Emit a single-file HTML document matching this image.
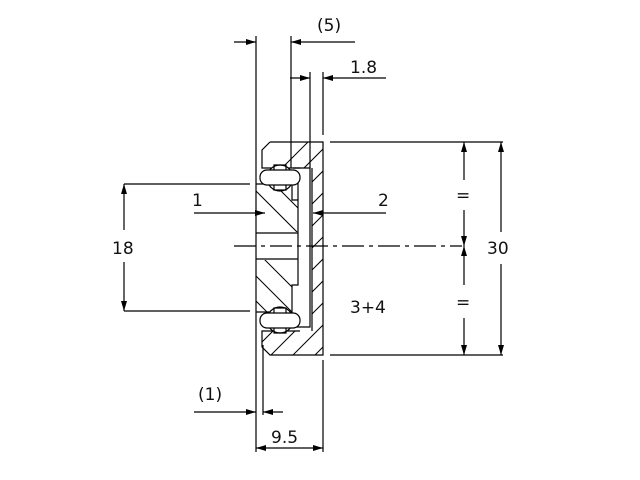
<!DOCTYPE html>
<html><head><meta charset="utf-8"><style>
html,body{margin:0;padding:0;background:#fff;}
svg{display:block;}
text{font-family:"DejaVu Sans","Liberation Sans",sans-serif;font-size:17px;fill:#111;}
</style></head><body>
<svg width="640" height="480" viewBox="0 0 640 480" xmlns="http://www.w3.org/2000/svg">
<defs>
<marker id="a" viewBox="0 0 10 6" refX="10" refY="3" markerWidth="10" markerHeight="6" markerUnits="userSpaceOnUse" orient="auto"><path d="M0,0 L10,3 L0,6z" fill="#000"/></marker>
<clipPath id="outer"><path d="M270,142 L323,142 L323,355 L270,355 L262,347 L262,331 L312,331 L312,168 L262,168 L262,150z"/></clipPath>
<clipPath id="inner"><path d="M256,184 L292,184 L292,200 L298,200 L298,285 L292,285 L292,312 L256,312z"/></clipPath>
</defs>
<g stroke="#000" stroke-width="1.2" fill="none">
<g clip-path="url(#outer)" stroke-width="1">
<path d="M250,200 l90,-90 M250,222 l90,-90 M250,244 l90,-90 M250,266 l90,-90 M250,288 l90,-90 M250,310 l90,-90 M250,332 l90,-90 M250,354 l90,-90 M250,376 l90,-90 M250,398 l90,-90 M250,420 l90,-90 M250,442 l90,-90"/>
</g>
<g clip-path="url(#inner)" stroke-width="1">
<path d="M250,185 l50,50 M250,160 l50,50 M250,270 l50,50 M250,295 l50,50 M250,245 l50,50"/>
</g>
<rect x="255" y="232" width="45" height="28" fill="#fff" stroke="none"/>
<path d="M270,142 L323,142 L323,355 L270,355 L262,347 L262,331 L300,331 M300,168 L262,168 L262,150 L270,142"/>
<path d="M312,168 L312,331"/>
<path d="M293,168 L310,168 L310,327 L293,327"/>
<path d="M298,175 L298,200"/>
<path d="M256,184 L292,184 L292,200 L298,200 L298,285 L292,285 L292,312 L256,312"/>
<path d="M256,233 L298,233 M256,259 L298,259"/>
<circle cx="280" cy="178" r="13" fill="#fff"/>
<circle cx="280" cy="320" r="13" fill="#fff"/>
<rect x="260" y="170" width="40" height="15" rx="7" fill="#fff"/>
<rect x="260" y="313" width="40" height="15" rx="7" fill="#fff"/>
<path d="M274,170 v-5 h12 v5 M274,185 v5 h12 v-5 M274,313 v-5 h12 v5 M274,328 v5 h12 v-5"/>
<path d="M256,36 L256,452 M291,36 L291,168 M310,72 L310,168 M323,72 L323,135 M323,360 L323,452 M263,345 L263,415"/>
<path d="M330,142 L503,142 M330,355 L503,355 M124,184 L250,184 M124,311 L250,311"/>
<path d="M234,246 L462,246" stroke-dasharray="22,5,4,5"/>
<path d="M234,42 L256,42" marker-end="url(#a)"/><path d="M355,42 L291,42" marker-end="url(#a)"/>
<path d="M290,78 L310,78" marker-end="url(#a)"/><path d="M386,78 L323,78" marker-end="url(#a)"/>
<path d="M194,213 L265,213" marker-end="url(#a)"/><path d="M386,213 L313,213" marker-end="url(#a)"/>
<path d="M124,230 L124,184" marker-end="url(#a)"/><path d="M124,262 L124,311" marker-end="url(#a)"/>
<path d="M464,180 L464,142" marker-end="url(#a)"/><path d="M464,210 L464,246" marker-end="url(#a)"/>
<path d="M464,285 L464,246" marker-end="url(#a)"/><path d="M464,318 L464,355" marker-end="url(#a)"/>
<path d="M501,232 L501,142" marker-end="url(#a)"/><path d="M501,264 L501,355" marker-end="url(#a)"/>
<path d="M194,412 L256,412" marker-end="url(#a)"/><path d="M283,412 L263,412" marker-end="url(#a)"/>
<path d="M290,448 L256,448" marker-end="url(#a)"/><path d="M290,448 L323,448" marker-end="url(#a)"/>
</g>
<text x="317" y="31">(5)</text>
<text x="350" y="73">1.8</text>
<text x="192" y="206">1</text>
<text x="378" y="206">2</text>
<text x="112" y="254">18</text>
<text x="456" y="201">=</text>
<text x="456" y="308">=</text>
<text x="487" y="254">30</text>
<text x="350" y="313">3+4</text>
<text x="198" y="400">(1)</text>
<text x="271" y="443">9.5</text>
</svg>
</body></html>
